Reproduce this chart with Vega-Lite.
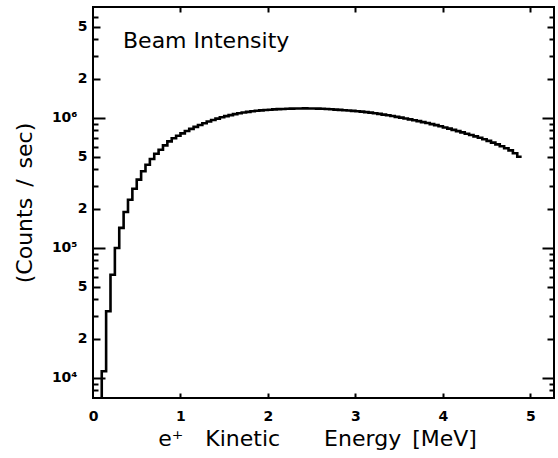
{
  "$schema": "https://vega.github.io/schema/vega-lite/v6.json",
  "width": 461,
  "height": 391,
  "autosize": "none",
  "padding": {"left": 93, "top": 7, "right": 4, "bottom": 60},
  "background": "white",
  "config": {
    "view": {"stroke": "black", "strokeWidth": 2},
    "axis": {
      "grid": false,
      "domain": false,
      "tickColor": "black",
      "tickWidth": 2,
      "labelColor": "black",
      "titleColor": "black",
      "labelFont": "DejaVu Sans",
      "titleFont": "DejaVu Sans",
      "labelFontWeight": "bold",
      "labelFontSize": 14,
      "titleFontWeight": "normal",
      "titleFontSize": 22
    }
  },
  "title": {
    "text": "Beam Intensity",
    "anchor": "start",
    "frame": "group",
    "dx": 30,
    "offset": -64,
    "baseline": "alphabetic",
    "font": "DejaVu Sans",
    "fontSize": 22,
    "fontWeight": "normal",
    "color": "black"
  },
  "data": {
    "values": [
      {"e": 0.05, "c": 4000},
      {"e": 0.10, "c": 11200},
      {"e": 0.15, "c": 32400},
      {"e": 0.20, "c": 62000},
      {"e": 0.25, "c": 99500},
      {"e": 0.30, "c": 142000},
      {"e": 0.35, "c": 188000},
      {"e": 0.40, "c": 234000},
      {"e": 0.45, "c": 284000},
      {"e": 0.50, "c": 334000},
      {"e": 0.55, "c": 387000},
      {"e": 0.60, "c": 435000},
      {"e": 0.65, "c": 481000},
      {"e": 0.70, "c": 528000},
      {"e": 0.75, "c": 567000},
      {"e": 0.80, "c": 612000},
      {"e": 0.85, "c": 657000},
      {"e": 0.90, "c": 694000},
      {"e": 0.95, "c": 727000},
      {"e": 1.00, "c": 757000},
      {"e": 1.05, "c": 789000},
      {"e": 1.10, "c": 820000},
      {"e": 1.15, "c": 850000},
      {"e": 1.20, "c": 879000},
      {"e": 1.25, "c": 907000},
      {"e": 1.30, "c": 935000},
      {"e": 1.35, "c": 960000},
      {"e": 1.40, "c": 984000},
      {"e": 1.45, "c": 1007000},
      {"e": 1.50, "c": 1027000},
      {"e": 1.55, "c": 1047000},
      {"e": 1.60, "c": 1064000},
      {"e": 1.65, "c": 1081000},
      {"e": 1.70, "c": 1095000},
      {"e": 1.75, "c": 1108000},
      {"e": 1.80, "c": 1120000},
      {"e": 1.85, "c": 1130000},
      {"e": 1.90, "c": 1138000},
      {"e": 1.95, "c": 1146000},
      {"e": 2.00, "c": 1152000},
      {"e": 2.05, "c": 1158000},
      {"e": 2.10, "c": 1163000},
      {"e": 2.15, "c": 1167000},
      {"e": 2.20, "c": 1171000},
      {"e": 2.25, "c": 1173000},
      {"e": 2.30, "c": 1175000},
      {"e": 2.35, "c": 1177000},
      {"e": 2.40, "c": 1178000},
      {"e": 2.45, "c": 1177000},
      {"e": 2.50, "c": 1176000},
      {"e": 2.55, "c": 1174000},
      {"e": 2.60, "c": 1171000},
      {"e": 2.65, "c": 1167000},
      {"e": 2.70, "c": 1160000},
      {"e": 2.75, "c": 1154000},
      {"e": 2.80, "c": 1148000},
      {"e": 2.85, "c": 1142000},
      {"e": 2.90, "c": 1135000},
      {"e": 2.95, "c": 1128000},
      {"e": 3.00, "c": 1121000},
      {"e": 3.05, "c": 1113000},
      {"e": 3.10, "c": 1103000},
      {"e": 3.15, "c": 1093000},
      {"e": 3.20, "c": 1081000},
      {"e": 3.25, "c": 1069000},
      {"e": 3.30, "c": 1056000},
      {"e": 3.35, "c": 1043000},
      {"e": 3.40, "c": 1030000},
      {"e": 3.45, "c": 1015000},
      {"e": 3.50, "c": 1001000},
      {"e": 3.55, "c": 986000},
      {"e": 3.60, "c": 971000},
      {"e": 3.65, "c": 956000},
      {"e": 3.70, "c": 941000},
      {"e": 3.75, "c": 925000},
      {"e": 3.80, "c": 909000},
      {"e": 3.85, "c": 892000},
      {"e": 3.90, "c": 876000},
      {"e": 3.95, "c": 859000},
      {"e": 4.00, "c": 841000},
      {"e": 4.05, "c": 823000},
      {"e": 4.10, "c": 806000},
      {"e": 4.15, "c": 788000},
      {"e": 4.20, "c": 771000},
      {"e": 4.25, "c": 753000},
      {"e": 4.30, "c": 736000},
      {"e": 4.35, "c": 718000},
      {"e": 4.40, "c": 700000},
      {"e": 4.45, "c": 682000},
      {"e": 4.50, "c": 663000},
      {"e": 4.55, "c": 643000},
      {"e": 4.60, "c": 623000},
      {"e": 4.65, "c": 603000},
      {"e": 4.70, "c": 582000},
      {"e": 4.75, "c": 560000},
      {"e": 4.80, "c": 533000},
      {"e": 4.85, "c": 500000},
      {"e": 4.90, "c": 500000}
    ]
  },
  "layer": [
    {
      "mark": {"type": "line", "interpolate": "step-after", "color": "black", "strokeWidth": 2.6, "clip": true},
      "encoding": {
        "x": {
          "field": "e",
          "type": "quantitative",
          "scale": {"domain": [0, 5.27], "nice": false, "zero": false},
          "axis": {
            "orient": "bottom",
            "values": [0, 1, 2, 3, 4, 5],
            "format": "d",
            "ticks": false,
            "labelPadding": 11,
            "labelFlush": false,
            "labelOverlap": false,
            "title": "e⁺\u2003Kinetic\u2003\u2003Energy\u2002[MeV]",
            "titleX": 224,
            "titlePadding": 5
          }
        },
        "y": {
          "field": "c",
          "type": "quantitative",
          "scale": {"type": "log", "domain": [6980, 7100000], "nice": false},
          "axis": {
            "orient": "left",
            "values": [10000, 20000, 50000, 100000, 200000, 500000, 1000000, 2000000, 5000000],
            "labelExpr": "datum.value == 10000 ? '10⁴' : datum.value == 100000 ? '10⁵' : datum.value == 1000000 ? '10⁶' : (datum.value == 20000 || datum.value == 200000 || datum.value == 2000000) ? '2' : '5'",
            "ticks": false,
            "labelPadding": {
              "condition": {"test": "datum.value == 10000 || datum.value == 100000 || datum.value == 1000000", "value": 16},
              "value": 6
            },
            "labelOverlap": false,
            "title": "(Counts\u2002/\u2002sec)",
            "titlePadding": 15
          }
        }
      }
    },
    {
      "mark": {"type": "line", "interpolate": "step-after", "color": "black", "opacity": 0, "clip": true},
      "encoding": {
        "x": {
          "field": "e",
          "type": "quantitative",
          "scale": {"domain": [0, 5.27], "nice": false, "zero": false},
          "axis": {"orient": "top", "values": [1, 2, 3, 4, 5], "tickSize": -5, "labels": false, "title": null}
        },
        "y": {
          "field": "c",
          "type": "quantitative",
          "scale": {"type": "log", "domain": [6980, 7100000], "nice": false},
          "axis": {
            "orient": "left",
            "values": [8000, 9000, 10000, 20000, 30000, 40000, 50000, 60000, 70000, 80000, 90000, 100000, 200000, 300000, 400000, 500000, 600000, 700000, 800000, 900000, 1000000, 2000000, 3000000, 4000000, 5000000, 6000000],
            "tickSize": {
              "condition": [
                {"test": "datum.value == 10000 || datum.value == 100000 || datum.value == 1000000", "value": -12},
                {"test": "datum.value == 20000 || datum.value == 200000 || datum.value == 2000000 || datum.value == 50000 || datum.value == 500000 || datum.value == 5000000", "value": -7}
              ],
              "value": -5
            },
            "labels": false,
            "title": null
          }
        }
      }
    },
    {
      "mark": {"type": "line", "interpolate": "step-after", "color": "black", "opacity": 0, "clip": true},
      "encoding": {
        "x": {
          "field": "e",
          "type": "quantitative",
          "scale": {"domain": [0, 5.27], "nice": false, "zero": false},
          "axis": {"orient": "bottom", "values": [1, 2, 3, 4, 5], "tickSize": -5, "labels": false, "title": null}
        },
        "y": {
          "field": "c",
          "type": "quantitative",
          "scale": {"type": "log", "domain": [6980, 7100000], "nice": false},
          "axis": {
            "orient": "right",
            "values": [8000, 9000, 10000, 20000, 30000, 40000, 50000, 60000, 70000, 80000, 90000, 100000, 200000, 300000, 400000, 500000, 600000, 700000, 800000, 900000, 1000000, 2000000, 3000000, 4000000, 5000000, 6000000],
            "tickSize": {
              "condition": [
                {"test": "datum.value == 10000 || datum.value == 100000 || datum.value == 1000000", "value": -12},
                {"test": "datum.value == 20000 || datum.value == 200000 || datum.value == 2000000 || datum.value == 50000 || datum.value == 500000 || datum.value == 5000000", "value": -7}
              ],
              "value": -5
            },
            "labels": false,
            "title": null
          }
        }
      }
    }
  ],
  "resolve": {"axis": {"x": "independent", "y": "independent"}}
}
